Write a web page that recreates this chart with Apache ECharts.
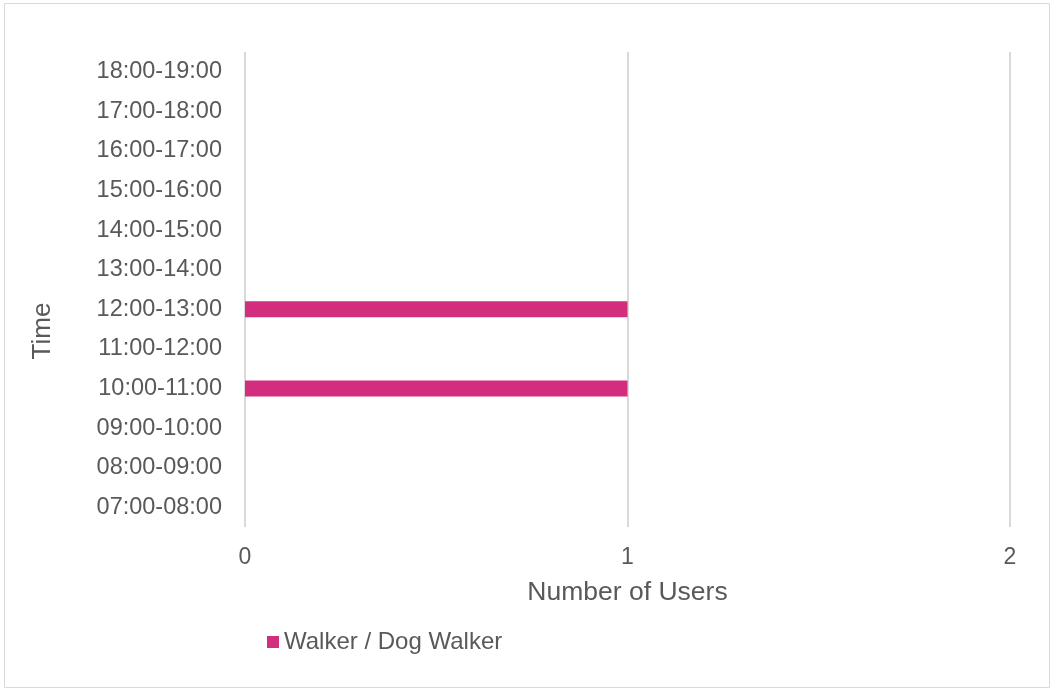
<!DOCTYPE html>
<html><head><meta charset="utf-8">
<script src="https://cdn.jsdelivr.net/npm/echarts@6/dist/echarts.min.js"></script>
<style>html,body{margin:0;padding:0;background:#fff}#c{width:1051px;height:691px}</style>
</head><body><div id="c"></div>
<script>
const categories = ["07:00-08:00","08:00-09:00","09:00-10:00","10:00-11:00","11:00-12:00","12:00-13:00","13:00-14:00","14:00-15:00","15:00-16:00","16:00-17:00","17:00-18:00","18:00-19:00"];
const walkerValues = [0,0,0,1,0,1,0,0,0,0,0,0];
const xTicks = [0,1,2];
const seriesName = "Walker / Dog Walker";

const chart = echarts.init(document.getElementById('c'), null, {renderer:'canvas'});
const font = 'Liberation Sans, Arial, sans-serif';
chart.setOption({
  animation:false,
  textStyle:{fontFamily:font},
  graphic:[
    {type:'rect',shape:{x:4.5,y:3.5,width:1045,height:684},style:{fill:null,stroke:'#d9d9d9',lineWidth:1},silent:true},
    {type:'text',x:43,y:331,rotation:Math.PI/2,style:{text:'Time',fill:'#595959',font:'26px Liberation Sans, Arial, sans-serif',textAlign:'center',textVerticalAlign:'middle'},silent:true}
  ],
  grid:{left:245,right:41,top:52,bottom:164},
  legend:{left:262,top:625,itemWidth:12,itemHeight:12,itemGap:10,icon:'rect',
    textStyle:{color:'#595959',fontSize:24,fontFamily:font},data:[seriesName]},
  xAxis:{type:'value',min:xTicks[0],max:xTicks[xTicks.length-1],interval:1,
    name:'Number of Users',nameLocation:'middle',nameGap:52,
    nameTextStyle:{color:'#595959',fontSize:26.5,fontFamily:font},
    axisLine:{show:false},axisTick:{show:false},
    axisLabel:{color:'#595959',fontSize:23,margin:19,fontFamily:font},
    splitLine:{lineStyle:{color:'#d9d9d9',width:2}}},
  yAxis:{type:'category',data:categories,
    axisLine:{show:false},axisTick:{show:false},
    axisLabel:{color:'#595959',fontSize:23.5,margin:23,fontFamily:font},
    splitLine:{show:false}},
  series:[{name:seriesName,type:'bar',data:walkerValues,barWidth:16,
    itemStyle:{color:'#D32E7D',borderWidth:0}}]
});
</script></body></html>
